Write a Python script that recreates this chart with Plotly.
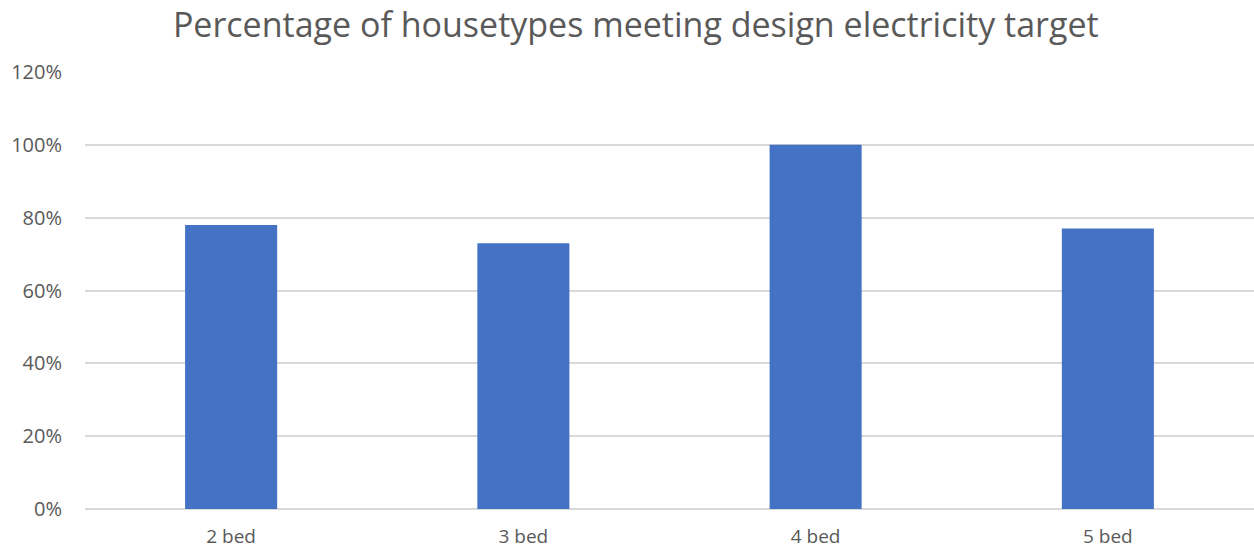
import plotly.graph_objects as go

categories = ["2 bed", "3 bed", "4 bed", "5 bed"]
share_meeting_target = [0.78, 0.73, 1.00, 0.77]
y_tick_values = [0, 0.2, 0.4, 0.6, 0.8, 1.0, 1.2]
y_tick_labels = ["0%", "20%", "40%", "60%", "80%", "100%", "120%"]

fig = go.Figure(
    go.Bar(
        x=categories,
        y=share_meeting_target,
        marker=dict(color="#4472C4", line=dict(width=0)),
        hoverinfo="x+y",
    )
)

fig.update_layout(
    width=1254,
    height=552,
    margin=dict(l=85, r=0, t=72, b=43, autoexpand=False),
    paper_bgcolor="white",
    plot_bgcolor="white",
    bargap=0.685,
    showlegend=False,
    font=dict(family="Open Sans, Noto Sans, sans-serif", color="#595959", size=20),
    title=dict(
        text="Percentage of housetypes meeting design electricity target",
        x=0.507,
        xanchor="center",
        yref="container",
        y=0.954,
        yanchor="middle",
        font=dict(size=34, color="#595959"),
    ),
)

fig.update_xaxes(
    showgrid=False,
    showline=False,
    ticks="",
    automargin=False,
    ticklabelstandoff=14,
    tickfont=dict(size=19, color="#595959"),
)

fig.update_yaxes(
    range=[0, 1.2],
    tickvals=y_tick_values,
    ticktext=y_tick_labels,
    showgrid=True,
    gridcolor="#D9D9D9",
    gridwidth=1.5,
    zeroline=True,
    zerolinecolor="#D9D9D9",
    zerolinewidth=1.5,
    showline=False,
    ticks="",
    automargin=False,
    ticklabelstandoff=22,
    tickfont=dict(size=20, color="#595959"),
)

fig.write_html("out.html")
